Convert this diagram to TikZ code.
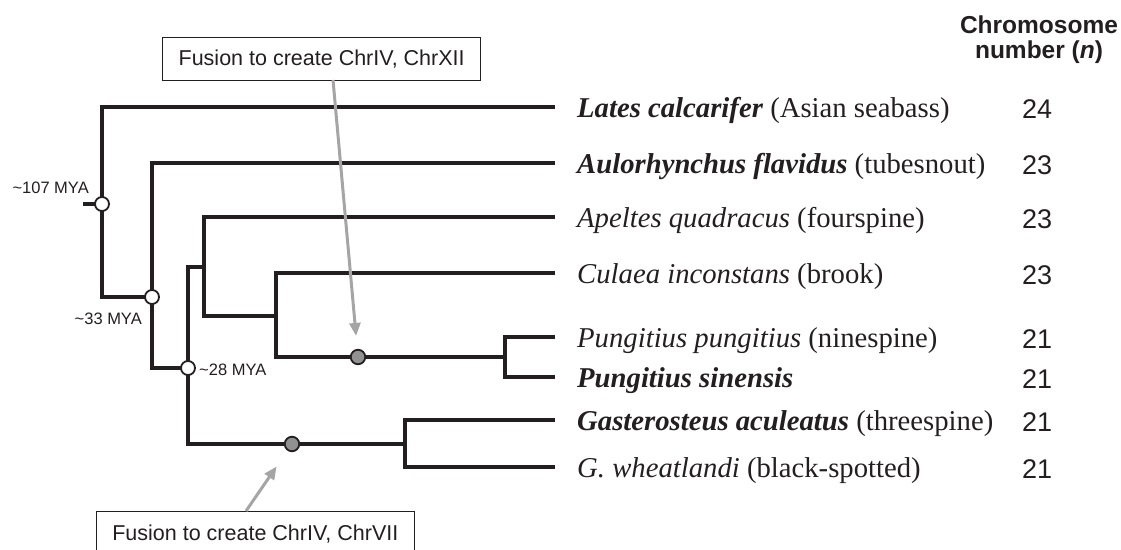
\documentclass[tikz,border=0pt]{standalone}
\usepackage{fontspec}
\setmainfont{Liberation Serif}
\setsansfont{Liberation Sans}
\usetikzlibrary{arrows.meta}
\definecolor{treec}{RGB}{35,31,32}
\definecolor{arrowc}{RGB}{165,165,165}
\definecolor{fusec}{RGB}{145,145,145}
\begin{document}
\begin{tikzpicture}[x=1pt,y=-1pt,
  branch/.style={line width=3.4pt, draw=treec, line join=miter},
  opencirc/.style={circle, draw=treec, fill=white, line width=1.8pt, minimum size=14pt, inner sep=0pt},
  fusecirc/.style={circle, draw=treec, fill=fusec, line width=1.8pt, minimum size=14.5pt, inner sep=0pt},
  fusearrow/.style={draw=arrowc, line width=3pt, -{Triangle[length=13pt,width=11pt]}},
  taxon/.style={anchor=base west, inner sep=0pt, font=\fontsize{28.7}{32}\selectfont, text=treec},
  chrnum/.style={anchor=base west, inner sep=0pt, font=\sffamily\fontsize{27}{30}\selectfont, text=treec},
  mya/.style={inner sep=0pt, font=\sffamily\fontsize{16.5}{18}\selectfont, text=treec},
  fusebox/.style={draw=treec, line width=1.3pt, fill=white, inner xsep=16pt, inner ysep=0pt, font=\sffamily\fontsize{21.5}{24}\selectfont, text=treec}
]
\useasboundingbox (0,0) rectangle (1121,549);

% coordinates of the tree
\coordinate (root) at (83,204);
\coordinate (c107) at (102,204);
\coordinate (c33) at (152,297);
\coordinate (c28) at (188,368);
\coordinate (nAp) at (204,267);
\coordinate (nCu) at (276,316);
\coordinate (nPu) at (505,357);
\coordinate (nGa) at (405,444);
\coordinate (tLa) at (555,107);
\coordinate (tAu) at (555,163);
\coordinate (tAp) at (555,217);
\coordinate (tCu) at (555,273);
\coordinate (tPp) at (555,337);
\coordinate (tPs) at (555,377);
\coordinate (tGa) at (555,420);
\coordinate (tWh) at (555,467);

% branches
\draw[branch] (root) -- (c107);
\draw[branch] (tLa) -| (c107) |- (c33);
\draw[branch] (tAu) -| (c33) |- (c28);
\draw[branch] (nAp) -| (c28) |- (nGa);
\draw[branch] (tAp) -| (nAp) |- (nCu);
\draw[branch] (tCu) -| (nCu) |- (nPu);
\draw[branch] (tPp) -| (nPu) |- (tPs);
\draw[branch] (tGa) -| (nGa) |- (tWh);

% dated nodes
\node[opencirc] (n107) at (c107) {};
\node[opencirc] (n33) at (c33) {};
\node[opencirc] (n28) at (c28) {};
\node[mya, anchor=east] (l107) at (89,188) {\textasciitilde107 MYA};
\node[mya, anchor=east] (l33) at (142,319) {\textasciitilde33 MYA};
\node[mya, anchor=west] (l28) at (199,370) {\textasciitilde28 MYA};

% fusion events
\node[fusecirc] (f1) at (358,357) {};
\node[fusecirc] (f2) at (292,444) {};

\node[fusebox, minimum height=43pt, anchor=north west] (box1) at (162,37) {Fusion to create ChrIV, ChrXII};
\node[fusebox, minimum height=44pt, anchor=north east] (box2) at (415,511) {Fusion to create ChrIV, ChrVII};

\coordinate (a1s) at (333,80);
\coordinate (a2s) at (246,511);
\draw[fusearrow, shorten >=13pt] (a1s) -- (f1);
\draw[fusearrow, shorten >=19pt] (a2s) -- (f2);

% taxa
\node[taxon] (La) at (577,117) {\textbf{\textit{Lates calcarifer}} (Asian seabass)};
\node[taxon] (Au) at (577,173) {\textbf{\textit{Aulorhynchus flavidus}} (tubesnout)};
\node[taxon] (Ap) at (577,227) {\textit{Apeltes quadracus} (fourspine)};
\node[taxon] (Cu) at (577,283) {\textit{Culaea inconstans} (brook)};
\node[taxon] (Pp) at (577,347) {\textit{Pungitius pungitius} (ninespine)};
\node[taxon] (Ps) at (577,387) {\textbf{\textit{Pungitius sinensis}}};
\node[taxon] (Ga) at (577,430) {\textbf{\textit{Gasterosteus aculeatus}} (threespine)};
\node[taxon] (Wh) at (577,477) {\textit{G. wheatlandi} (black-spotted)};

% chromosome numbers
\node[align=center, inner sep=0pt, font=\sffamily\bfseries\fontsize{24.5}{25}\selectfont, text=treec] (hdr) at (1039,40) {Chromosome\\number (\textit{n})};
\node[chrnum] (nLa) at (1022,118) {24};
\node[chrnum] (nAu) at (1022,174) {23};
\node[chrnum] (nAp) at (1022,228) {23};
\node[chrnum] (nCu) at (1022,284) {23};
\node[chrnum] (nPp) at (1022,348) {21};
\node[chrnum] (nPs) at (1022,388) {21};
\node[chrnum] (nGa) at (1022,431) {21};
\node[chrnum] (nWh) at (1022,478) {21};
\end{tikzpicture}
\end{document}
